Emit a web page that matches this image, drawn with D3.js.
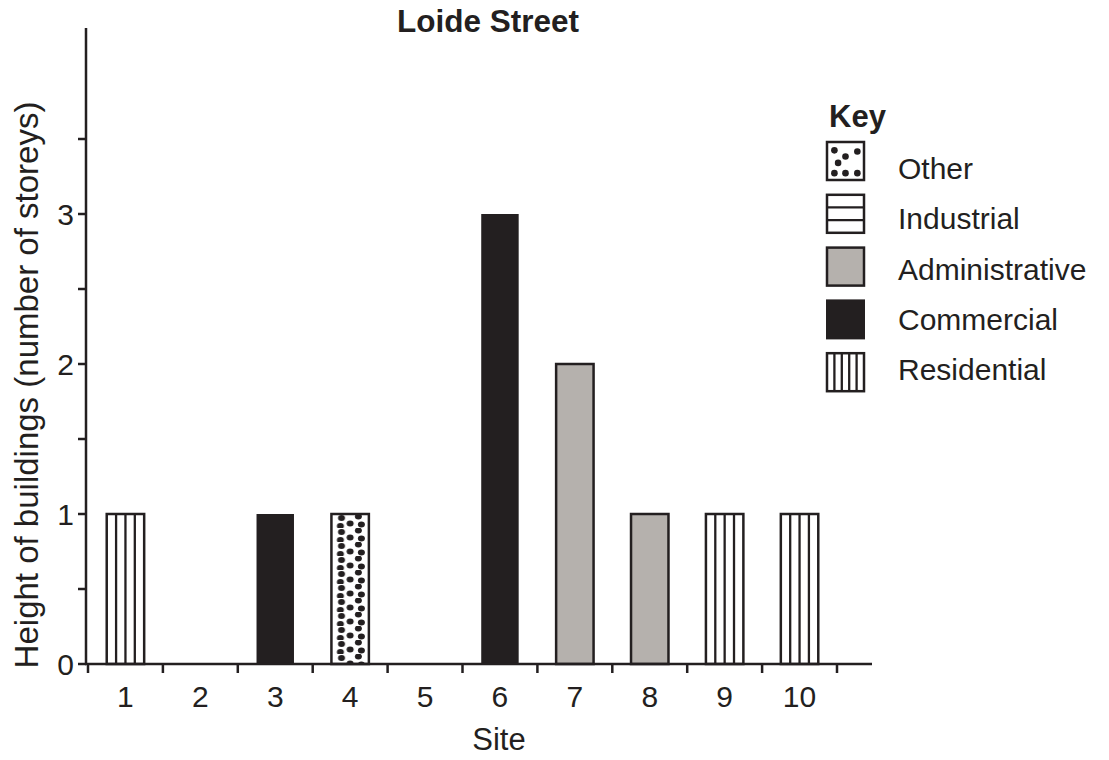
<!DOCTYPE html>
<html>
<head>
<meta charset="utf-8">
<script src="https://cdn.jsdelivr.net/npm/d3@7"></script>
<style>
  html, body { margin: 0; padding: 0; background: #fff; }
  svg text { font-family: "Liberation Sans", Arial, Helvetica, sans-serif; fill: #231f20; }
</style>
</head>
<body>
<svg id="chart" width="1109" height="760"></svg>
<script>
// ---- data ----
const sites = ["1", "2", "3", "4", "5", "6", "7", "8", "9", "10"];
const heights = [1, 0, 1, 1, 0, 3, 2, 1, 1, 1];
const uses = ["Residential", null, "Commercial", "Other", null, "Commercial", "Administrative", "Administrative", "Residential", "Residential"];
const keyLabels = ["Other", "Industrial", "Administrative", "Commercial", "Residential"];
const yTickValues = [0, 0.5, 1, 1.5, 2, 2.5, 3, 3.5];
const yLabelValues = [0, 1, 2, 3];
const titleText = "Loide Street";
const xTitle = "Site";
const yTitle = "Height of buildings (number of storeys)";

// ---- setup ----
const ink = "#231f20";
const grey = "#b5b1ad";
const svg = d3.select("#chart");
const defs = svg.append("defs");

const x = d3.scaleBand().domain(sites).range([88, 837]).paddingInner(0.5).paddingOuter(0.25);
const y = d3.scaleLinear().domain([0, 4.24]).range([664, 28]);
const step = x.step();
const bw = x.bandwidth();

// Title
svg.append("text").attr("x", 488).attr("y", 32).attr("text-anchor", "middle")
  .attr("font-size", 31.5).attr("font-weight", "bold").text(titleText);

// Bars
const data = sites.map((s, i) => ({ site: s, h: heights[i], use: uses[i] }));
const bars = data.filter(d => d.use && d.h > 0);

bars.forEach((d, i) => {
  const bx = x(d.site), by = y(d.h), bh = y(0) - y(d.h);
  const g = svg.append("g");
  if (d.use === "Commercial") {
    g.append("rect").attr("x", bx).attr("y", by).attr("width", bw).attr("height", bh)
      .attr("fill", ink);
  } else if (d.use === "Administrative") {
    g.append("rect").attr("x", bx).attr("y", by).attr("width", bw).attr("height", bh)
      .attr("fill", grey).attr("stroke", ink).attr("stroke-width", 2.5);
  } else if (d.use === "Residential") {
    g.append("rect").attr("x", bx).attr("y", by).attr("width", bw).attr("height", bh)
      .attr("fill", "#fff");
    [1, 2, 3].forEach(k => {
      g.append("line").attr("x1", bx + bw * k / 4).attr("x2", bx + bw * k / 4)
        .attr("y1", by).attr("y2", y(0)).attr("stroke", ink).attr("stroke-width", 2.3);
    });
    g.append("rect").attr("x", bx).attr("y", by).attr("width", bw).attr("height", bh)
      .attr("fill", "none").attr("stroke", ink).attr("stroke-width", 2.5);
  } else if (d.use === "Other") {
    const pid = "dots" + i;
    const tileH = 14;
    const p = defs.append("pattern").attr("id", pid).attr("patternUnits", "userSpaceOnUse")
      .attr("x", bx).attr("y", by).attr("width", bw).attr("height", tileH);
    const pts = [[0.27, 4], [0.72, 2.5], [0.5, 9.5], [0.24, 12], [0.8, 10.5]];
    pts.forEach(pt => p.append("ellipse").attr("cx", pt[0] * bw).attr("cy", pt[1])
      .attr("rx", 3.5).attr("ry", 2.9).attr("fill", ink));
    g.append("rect").attr("x", bx).attr("y", by).attr("width", bw).attr("height", bh)
      .attr("fill", "#fff");
    g.append("rect").attr("x", bx).attr("y", by).attr("width", bw).attr("height", bh)
      .attr("fill", `url(#${pid})`).attr("stroke", ink).attr("stroke-width", 2.5);
  }
});

// Axes
const axisG = svg.append("g").attr("stroke", ink).attr("stroke-width", 2.5);
axisG.append("line").attr("x1", 86).attr("x2", 86).attr("y1", y.range()[1]).attr("y2", y(0) + 1);
axisG.append("line").attr("x1", 85).attr("x2", 872).attr("y1", y(0)).attr("y2", y(0));
// y ticks
yTickValues.forEach(v => {
  axisG.append("line").attr("x1", 78).attr("x2", 86).attr("y1", y(v)).attr("y2", y(v));
});
// x ticks at band boundaries
const boundaries = sites.map(s => x(s) - step * x.paddingInner() / 2);
boundaries.push(x(sites[sites.length - 1]) + bw + step * x.paddingInner() / 2);
boundaries.forEach(bx => {
  axisG.append("line").attr("x1", bx).attr("x2", bx).attr("y1", y(0)).attr("y2", y(0) + 9);
});

// y labels
svg.append("g").selectAll("text").data(yLabelValues).join("text")
  .attr("x", 74).attr("y", d => y(d) + 11).attr("text-anchor", "end")
  .attr("font-size", 30).text(d => d);

// x labels
svg.append("g").selectAll("text").data(sites).join("text")
  .attr("x", d => x(d) + bw / 2).attr("y", 707).attr("text-anchor", "middle")
  .attr("font-size", 30).text(d => d);

// axis titles
svg.append("text").attr("x", 499).attr("y", 750).attr("text-anchor", "middle")
  .attr("font-size", 31).text(xTitle);
svg.append("text").attr("transform", "translate(38,385) rotate(-90)").attr("text-anchor", "middle")
  .attr("font-size", 33).text(yTitle);

// Legend
const lg = svg.append("g");
lg.append("text").attr("x", 829).attr("y", 127).attr("font-size", 31).attr("font-weight", "bold").text("Key");
const sw = 37, sh = 38, rowStep = 52.8, top0 = 142, sx = 827;
keyLabels.forEach((k, i) => {
  const ty = top0 + i * rowStep;
  const g = lg.append("g");
  if (k === "Other") {
    g.append("rect").attr("x", sx).attr("y", ty).attr("width", sw).attr("height", sh)
      .attr("fill", "#fff").attr("stroke", ink).attr("stroke-width", 2.5);
    const dots = [[0.2, 0.22], [0.5, 0.38], [0.82, 0.25], [0.3, 0.55], [0.2, 0.82], [0.5, 0.82], [0.82, 0.82]];
    dots.forEach(dd => g.append("circle").attr("cx", sx + dd[0] * sw).attr("cy", ty + dd[1] * sh)
      .attr("r", 3.3).attr("fill", ink));
  } else if (k === "Industrial") {
    g.append("rect").attr("x", sx).attr("y", ty).attr("width", sw).attr("height", sh).attr("fill", "#fff");
    [1, 2].forEach(j => g.append("line").attr("x1", sx).attr("x2", sx + sw)
      .attr("y1", ty + sh * j / 3).attr("y2", ty + sh * j / 3).attr("stroke", ink).attr("stroke-width", 2.3));
    g.append("rect").attr("x", sx).attr("y", ty).attr("width", sw).attr("height", sh)
      .attr("fill", "none").attr("stroke", ink).attr("stroke-width", 2.5);
  } else if (k === "Administrative") {
    g.append("rect").attr("x", sx).attr("y", ty).attr("width", sw).attr("height", sh)
      .attr("fill", grey).attr("stroke", ink).attr("stroke-width", 2.5);
  } else if (k === "Commercial") {
    g.append("rect").attr("x", sx - 1).attr("y", ty - 1).attr("width", sw + 2).attr("height", sh + 2)
      .attr("fill", ink);
  } else if (k === "Residential") {
    g.append("rect").attr("x", sx).attr("y", ty).attr("width", sw).attr("height", sh).attr("fill", "#fff");
    [1, 2, 3, 4].forEach(j => g.append("line").attr("x1", sx + sw * j / 5).attr("x2", sx + sw * j / 5)
      .attr("y1", ty).attr("y2", ty + sh).attr("stroke", ink).attr("stroke-width", 2.3));
    g.append("rect").attr("x", sx).attr("y", ty).attr("width", sw).attr("height", sh)
      .attr("fill", "none").attr("stroke", ink).attr("stroke-width", 2.5);
  }
  g.append("text").attr("x", 898).attr("y", 179 + i * 50.3).attr("font-size", 30).text(k);
});
</script>
</body>
</html>
